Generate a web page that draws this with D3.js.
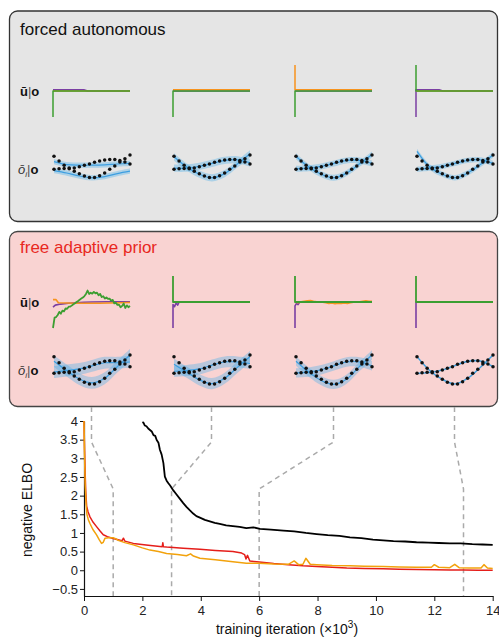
<!DOCTYPE html>
<html><head><meta charset="utf-8">
<script src="https://cdn.jsdelivr.net/npm/d3@7"></script>
<style>
body{margin:0;background:#fff}
svg{display:block}
text{font-family:"Liberation Sans",Arial,sans-serif;fill:#111}
</style>
</head><body>
<svg id="c" width="499" height="639"></svg>
<script>
// ---------------- DATA ----------------
const panelTitles = ["forced autonomous", "free adaptive prior"];
const snapshotIters = [1, 3, 6, 13];            // training iteration (x10^3) of each column
const xTicks = [0, 2, 4, 6, 8, 10, 12, 14];
const yTicks = [-0.5, 0, 0.5, 1, 1.5, 2, 2.5, 3, 3.5, 4];

// negative ELBO curves
const blackX = [2.0,2.04,2.08,2.14,2.2,2.26,2.32,2.38,2.44,2.49,2.55,2.6,2.66,2.72,2.77,2.83,2.89,2.95,3.06,3.17,3.28,3.4,3.51,3.62,3.74,3.85,3.97,4.14,4.31,4.48,4.65,4.87,5.1,5.33,5.56,5.8,6.03,6.4,6.83,7.2,7.6,7.97,8.35,8.75,9.11,9.5,9.9,10.25,10.6,11.0,11.39,11.8,12.15,12.53,12.9,13.3,13.65,14.0];
const blackY = [3.97,3.95,3.88,3.86,3.8,3.76,3.72,3.62,3.6,3.49,3.42,3.23,3.1,2.87,2.51,2.4,2.33,2.27,2.14,2.03,1.92,1.8,1.7,1.61,1.52,1.45,1.41,1.35,1.31,1.27,1.24,1.2,1.18,1.16,1.13,1.15,1.11,1.09,1.06,1.04,1.0,0.97,0.94,0.92,0.88,0.86,0.82,0.8,0.78,0.77,0.75,0.74,0.73,0.72,0.72,0.7,0.69,0.68];
const redX = [0,0.02,0.04,0.06,0.09,0.14,0.2,0.3,0.43,0.55,0.66,0.8,1.0,1.3,1.35,1.4,1.69,2.2,2.68,2.7,2.72,2.83,3.4,3.97,4.5,5.1,5.4,5.5,5.55,5.6,5.68,6.0,6.5,7.0,7.5,7.97,8.5,9.0,9.6,10.25,10.8,11.4,12.0,12.53,13.0,13.5,14.0];
const redY = [4.0,3.2,2.6,2.1,1.72,1.56,1.44,1.3,1.17,1.05,0.95,0.9,0.85,0.79,0.86,0.78,0.72,0.67,0.63,0.74,0.63,0.62,0.59,0.56,0.53,0.5,0.46,0.42,0.3,0.4,0.25,0.22,0.18,0.15,0.12,0.1,0.08,0.06,0.05,0.04,0.03,0.02,0.015,0.01,0.005,0.0,0.0];
const orangeX = [0,0.02,0.04,0.07,0.1,0.15,0.2,0.3,0.43,0.52,0.6,0.66,0.72,0.85,1.0,1.1,1.17,1.4,1.69,2.0,2.26,2.55,2.83,3.2,3.51,3.65,3.75,3.97,4.5,5.1,5.56,6.0,6.5,7.0,7.2,7.35,7.5,7.6,7.75,7.97,8.5,9.11,9.6,10.25,10.8,11.4,11.9,12.0,12.15,12.53,12.7,12.85,13.2,13.6,13.7,13.82,14.0];
const orangeY = [4.0,3.0,2.3,1.8,1.5,1.35,1.26,1.1,0.95,0.82,0.72,0.75,0.86,0.87,0.87,0.84,0.8,0.74,0.68,0.6,0.54,0.5,0.45,0.42,0.39,0.44,0.38,0.32,0.28,0.23,0.19,0.19,0.17,0.16,0.25,0.15,0.16,0.32,0.16,0.15,0.13,0.12,0.11,0.1,0.09,0.08,0.08,0.15,0.08,0.07,0.16,0.07,0.06,0.06,0.15,0.06,0.05];

// latent input u(t) snapshots: [t, value] pairs, one entry per column
const forcedPurple = [[[0,0.05],[0.4,0.05],[0.45,0],[1,0]], [[0,0],[1,0]], [[0,0],[1,0]], [[0,-1],[0,0.05],[0.3,0.05],[0.35,0],[1,0]]];
const forcedOrange = [[[0,0],[1,0]], [[0,0.05],[1,0.05]], [[0,1],[0,0.05],[1,0.05]], [[0,0],[1,0]]];
const forcedGreen  = [[[0,-1],[0,0],[1,0]], [[0,-1],[0,0],[1,0]], [[0,-1],[0,0],[1,0]], [[0,1],[0,0],[1,0]]];

const freeGreenCol1 = [-1.0,-0.6,-0.58,-0.5,-0.38,-0.45,-0.33,-0.36,-0.25,-0.26,-0.18,-0.18,-0.13,-0.09,-0.05,0.0,0.04,0.09,0.13,0.17,0.23,0.31,0.44,0.31,0.36,0.32,0.39,0.33,0.36,0.26,0.31,0.19,0.22,0.13,0.18,0.12,0.13,0.05,0.08,-0.05,-0.03,-0.11,-0.1,-0.2,-0.15,-0.06,-0.23,-0.13,-0.2,-0.15];
const freeOrangeCol3 = [0,-0.03,0.01,0.03,0.05,0.06,0.03,0.01,0.0,-0.01,-0.03,-0.06,-0.04,-0.07,-0.05,-0.06,-0.04,-0.06,-0.03,-0.01,0.0,0.01,0.03,0.05,0.03,0.03];
const freePurple = [
  [[0,-0.2],[0.03,-0.12],[0.1,-0.08],[0.2,-0.05],[0.3,-0.03],[0.4,-0.01],[0.5,0.0],[0.7,0.01],[1,0.01]],
  [[0,-1],[0,-0.1],[0.02,-0.18],[0.04,-0.04],[0.06,-0.12],[0.08,0],[1,0]],
  [[0,-1],[0,-0.15],[0.02,-0.05],[0.04,-0.1],[0.06,0],[1,0]],
  [[0,-1],[0,0],[1,0]]
];
const freeOrange = [
  [[0,0.09],[0.04,0.09],[0.07,-0.03],[0.3,-0.05],[0.6,-0.05],[1,-0.02]],
  [[0,0],[0.3,0.01],[0.6,-0.01],[1,0]],
  null, // uses freeOrangeCol3
  [[0,0],[1,0]]
];
const freeGreen = [null, [[0,1],[0,0],[1,0]], [[0,1],[0,0],[1,0]], [[0,1],[0,0],[1,0]]];

// observations o(t) (two trajectories, 16 samples)
const obsA = [0.89,0.5,0.14,-0.08,-0.35,-0.57,-0.76,-0.87,-0.87,-0.72,-0.5,-0.18,0.08,0.42,0.68,1.0];
const obsB = [-0.18,-0.14,-0.12,-0.14,-0.08,0.03,0.14,0.25,0.4,0.5,0.59,0.63,0.63,0.55,0.42,0.25];
// posterior predictions (7 samples over the same span) and band half-widths
const forcedPredA = [[-0.3,-0.5,-0.75,-0.9,-0.8,-0.55,-0.35],[0.85,0.0,-0.6,-0.9,-0.55,0.25,1.1],[0.9,0.0,-0.6,-0.9,-0.5,0.25,1.05],[1.3,0.0,-0.6,-0.9,-0.5,0.2,1.0]];
const forcedPredB = [[0.45,0.2,0.15,0.15,0.18,0.25,0.3],[-0.1,-0.1,0.05,0.3,0.55,0.6,0.35],[-0.15,-0.1,0.05,0.3,0.55,0.55,0.3],[-0.2,-0.1,0.05,0.3,0.55,0.6,0.3]];
const forcedBand = [0.22, 0.3, 0.25, 0.22];
const freePredA = [[0.6,0.0,-0.55,-0.8,-0.5,0.25,1.0],[0.4,-0.1,-0.6,-0.85,-0.5,0.2,0.9],[0.6,-0.1,-0.65,-0.9,-0.55,0.25,1.0],[0.89,0.0,-0.57,-0.87,-0.5,0.2,1.0]];
const freePredB = [[-0.1,0.0,0.1,0.3,0.5,0.5,0.55],[-0.05,0.0,0.1,0.35,0.55,0.55,0.45],[-0.15,-0.1,0.05,0.3,0.55,0.55,0.3],[-0.18,-0.13,0.03,0.32,0.59,0.6,0.25]];
const freeBand = [0.38, 0.36, 0.3, 0.07];

// ---------------- DRAWING ----------------
const svg = d3.select("#c");
const colLeft = [53, 173, 295, 416], colW = 77;
const C = {purple:"#7b3fa3", orange:"#f7931e", green:"#3c9e31", red:"#e51e1a", gold:"#f2a20c", blue:"#3d9ee0", band:"rgba(80,175,235,0.38)"};

// panels
svg.append("rect").attr("x",9.5).attr("y",11).attr("width",488).attr("height",210.5).attr("rx",8)
  .attr("fill","#e5e5e5").attr("stroke","#333").attr("stroke-width",1.3);
svg.append("rect").attr("x",9.5).attr("y",231.5).attr("width",488).attr("height",175).attr("rx",8)
  .attr("fill","#f9d3d2").attr("stroke","#444").attr("stroke-width",1.3);
svg.append("text").attr("x",20).attr("y",35).attr("font-size",17).text(panelTitles[0]);
svg.append("text").attr("x",20).attr("y",253).attr("font-size",17).style("fill","#e8281e").text(panelTitles[1]);

function uLabel(y){
  const t = svg.append("text").attr("x",20).attr("y",y).attr("font-size",13);
  t.append("tspan").attr("font-weight","bold").text("\u016B");
  t.append("tspan").style("fill","#555").text("|");
  t.append("tspan").attr("font-weight","bold").text("o");
}
function oLabel(y){
  const t = svg.append("text").attr("x",18).attr("y",y).attr("font-size",13);
  t.append("tspan").attr("font-style","italic").style("fill","#333").text("\u014D");
  t.append("tspan").attr("font-style","italic").attr("font-size",8).attr("dy",3).style("fill","#333").text("i");
  t.append("tspan").attr("dy",-3).style("fill","#555").text("|");
  t.append("tspan").attr("font-weight","bold").text("o");
}
uLabel(96); oLabel(174);
uLabel(307); oLabel(375);

function drawU(col, zeroY, series){
  const x = d3.scaleLinear().domain([0,1]).range([colLeft[col], colLeft[col]+colW]);
  const y = d3.scaleLinear().domain([-1,1]).range([zeroY+26, zeroY-26]);
  const line = d3.line().x(d=>x(d[0])).y(d=>y(d[1]));
  series.forEach(s=>{
    svg.append("path").attr("d", line(s.data)).attr("fill","none")
      .attr("stroke", s.color).attr("stroke-width", s.w||1.6).attr("stroke-linejoin","round");
  });
}
function drawO(col, cy, k, predA, predB, band){
  const x = d3.scaleLinear().domain([0,15]).range([colLeft[col]+1, colLeft[col]+colW]);
  const y = d3.scaleLinear().domain([-1,1]).range([cy+k, cy-k]);
  const tp = [0,2.5,5,7.5,10,12.5,15];
  const area = d3.area().x((d,i)=>x(tp[i])).y0(d=>y(d-band)).y1(d=>y(d+band)).curve(d3.curveCatmullRom);
  const line = d3.line().x((d,i)=>x(tp[i])).y(d=>y(d)).curve(d3.curveCatmullRom);
  [predA, predB].forEach(p=>{
    svg.append("path").attr("d", area(p)).attr("fill", C.band);
  });
  [predA, predB].forEach(p=>{
    svg.append("path").attr("d", line(p)).attr("fill","none").attr("stroke", C.blue).attr("stroke-width",1.2);
  });
  [obsA, obsB].forEach(o=>{
    svg.append("g").selectAll("circle").data(o).join("circle")
      .attr("cx",(d,i)=>x(i)).attr("cy",d=>y(d)).attr("r",1.75).attr("fill","#111");
  });
}

for (let c=0;c<4;c++){
  drawU(c, 91, [
    {color:C.purple, data:forcedPurple[c], w:1.5},
    {color:C.orange, data:forcedOrange[c], w:1.5},
    {color:C.green, data:forcedGreen[c], w:1.5}
  ]);
  drawO(c, 167, 12, forcedPredA[c], forcedPredB[c], forcedBand[c]);

  const g = c===0 ? freeGreenCol1.map((v,i)=>[i/(freeGreenCol1.length-1), v]) : freeGreen[c];
  const o = c===2 ? [[0,0]].concat(freeOrangeCol3.map((v,i)=>[i/(freeOrangeCol3.length-1), v])) : freeOrange[c];
  drawU(c, 302, [
    {color:C.purple, data:freePurple[c]},
    {color:C.orange, data:o},
    {color:C.green, data:g, w: 1.8}
  ]);
  drawO(c, 370.5, 15.5, freePredA[c], freePredB[c], freeBand[c]);
}

// ELBO plot
const x = d3.scaleLinear().domain([0,14]).range([84, 492.7]);
const y = d3.scaleLinear().domain([-0.69,4]).range([596, 421]);

// connectors
snapshotIters.forEach((it,i)=>{
  const cx = colLeft[i] + colW/2;
  const pts = [[cx,407],[cx,442],[x(it),489],[x(it),596]];
  svg.append("path").attr("d", d3.line()(pts)).attr("fill","none")
    .attr("stroke","#aaa").attr("stroke-width",1.5).attr("stroke-dasharray","5,4");
});

const fmt = d3.format("~g");
const ax = svg.append("g").attr("transform","translate(0,596)")
  .call(d3.axisBottom(x).tickValues(xTicks).tickSize(5).tickSizeOuter(0).tickPadding(5).tickFormat(fmt));
const ay = svg.append("g").attr("transform","translate(84,0)")
  .call(d3.axisLeft(y).tickValues(yTicks).tickSize(4).tickSizeOuter(0).tickPadding(2).tickFormat(fmt));
[ax, ay].forEach(a=>{
  a.selectAll("text").attr("font-size",13).attr("font-family","Liberation Sans, Arial, sans-serif").style("fill","#222");
  a.select(".domain").attr("stroke","#111").attr("stroke-width",1.2);
  a.selectAll(".tick line").attr("stroke","#111");
});

function curve(xs, ys, color, w){
  const pts = xs.map((v,i)=>[v, ys[i]]);
  svg.append("path").attr("d", d3.line().x(d=>x(d[0])).y(d=>y(d[1]))(pts))
    .attr("fill","none").attr("stroke",color).attr("stroke-width",w).attr("stroke-linejoin","round");
}
curve(redX, redY, C.red, 1.5);
curve(orangeX, orangeY, C.gold, 1.5);
curve(blackX, blackY, "#000", 1.8);

svg.append("text").attr("transform","translate(32,510) rotate(-90)").attr("text-anchor","middle")
  .attr("font-size",14).text("negative ELBO");
const xl = svg.append("text").attr("x",287).attr("y",634).attr("text-anchor","middle").attr("font-size",14);
xl.append("tspan").text("training iteration (\u00D710");
xl.append("tspan").attr("font-size",10).attr("dy",-6).text("3");
xl.append("tspan").attr("dy",6).text(")");
</script>
</body></html>
